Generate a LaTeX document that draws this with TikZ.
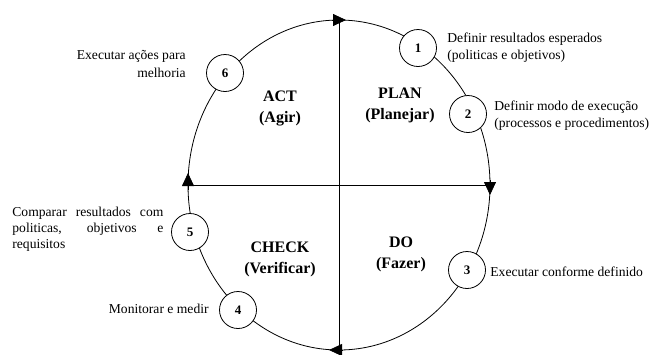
\documentclass[tikz,border=0pt]{standalone}
\usepackage{fontspec}
\setmainfont{Liberation Serif}
\usetikzlibrary{arrows.meta,positioning,calc}

\begin{document}
\begin{tikzpicture}[x=1pt,y=-1pt,line width=0.8pt,
  >={Triangle[length=13pt,width=12pt]},
  stepcirc/.style={circle,draw,fill=white,minimum size=37pt,inner sep=0pt,
    font=\fontsize{13}{15}\selectfont\bfseries},
  note/.style={inner sep=0pt,font=\fontsize{13.6}{17}\selectfont},
  phase/.style={inner sep=0pt,align=center,font=\fontsize{16}{21}\selectfont\bfseries}]
\useasboundingbox (0,0) rectangle (658,354);
% cycle
\coordinate (o) at (339,185);
\coordinate (top) at (339,20);
\coordinate (bot) at (339,350);
\coordinate (lft) at (188,185);
\coordinate (rgt) at (490,185);
\draw (o) ellipse [x radius=151, y radius=165];
\draw (top) -- (bot);
\draw (lft) -- (rgt);
\draw[->] ([xshift=-7pt]top) -- ([xshift=7pt]top);
\draw[->] ([yshift=5pt]rgt) -- ([yshift=-10pt]rgt);
\draw[->] ([xshift=3pt]bot) -- ([xshift=-10pt]bot);
\draw[->] ([yshift=-5pt]lft) -- ([yshift=12pt]lft);
% steps
\node[stepcirc] (c1) at (418,48) {1};
\node[stepcirc] (c2) at (468,114) {2};
\node[stepcirc] (c3) at (467,270) {3};
\node[stepcirc] (c4) at (238,310) {4};
\node[stepcirc] (c5) at (190,232) {5};
\node[stepcirc] (c6) at (225,73) {6};
% quadrants
\node[phase] (plan) at (400,105) {PLAN\\(Planejar)};
\node[phase] (do) at (401,254) {DO\\(Fazer)};
\node[phase] (check) at (280,259) {CHECK\\(Verificar)};
\node[phase] (act) at (280,108) {ACT\\(Agir)};
% notes
\node[note,anchor=west,align=left] (n1) at (447,48)
  {Definir resultados esperados\\(politicas e objetivos)};
\node[note,anchor=west,align=left] (n2) at (494,116)
  {Definir modo de execução\\(processos e procedimentos)};
\node[note,anchor=west] (n3) at (490,272) {Executar conforme definido};
\node[note,anchor=east] (n4) at (209,309) {Monitorar e medir};
\node[note,anchor=west,text width=151pt,align=justify,
  font=\fontsize{13.6}{16}\selectfont] (n5) at (12,229)
  {\hyphenpenalty=10000 Comparar resultados com\linebreak politicas, objetivos e\linebreak requisitos};
\node[note,anchor=base east] (n6) at (186,59) {Executar ações para};
\node[note,anchor=base east] (n6b) at (186,77) {melhoria};
\end{tikzpicture}
\end{document}
